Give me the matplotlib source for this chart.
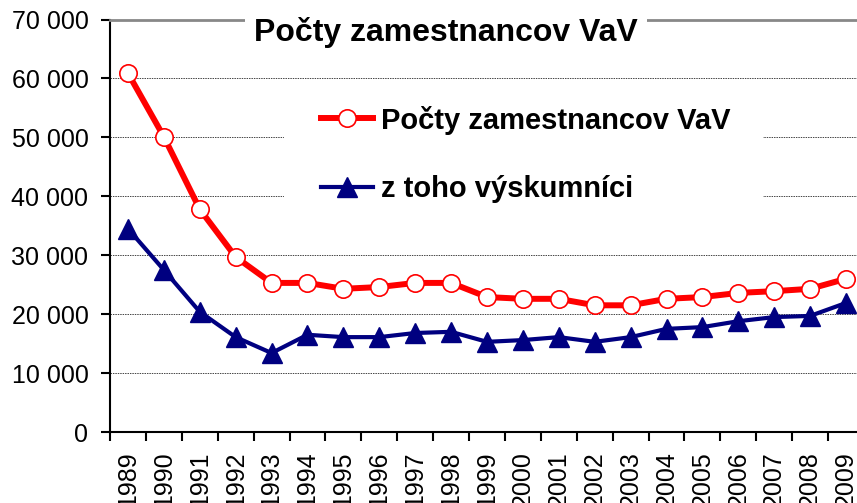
import numpy as np
import matplotlib
matplotlib.use("Agg")
import matplotlib.pyplot as plt
from matplotlib.patches import Rectangle
from matplotlib.ticker import FuncFormatter

# data
years = [str(y) for y in range(1989, 2010)]
zamestnanci = [60900, 50100, 37800, 29700, 25300, 25300, 24300, 24600, 25300, 25300,
               22900, 22600, 22600, 21500, 21500, 22600, 22900, 23600, 23900, 24300, 26000]
vyskumnici = [34500, 27500, 20400, 16100, 13400, 16500, 16100, 16100, 16800, 17000,
              15300, 15600, 16100, 15300, 16100, 17500, 17800, 18800, 19500, 19700, 21900]
yticks = [0, 10000, 20000, 30000, 40000, 50000, 60000, 70000]

title = "Počty zamestnancov VaV"
label1 = "Počty zamestnancov VaV"
label2 = "z toho výskumníci"

plt.rcParams['font.family'] = ['Liberation Sans', 'DejaVu Sans']

W, H = 857, 503
fig = plt.figure(figsize=(W / 100, H / 100), dpi=100)
# plot area runs past the right edge of the picture, as in the reference
ax = fig.add_axes([110 / W, (H - 432) / H, 754 / W, 412.5 / H])

x = np.arange(len(years))
ax.plot(x, zamestnanci, color='#ff0000', lw=4.3, marker='o', ms=12.5,
        mfc='white', mec='#ff0000', mew=1.2, label=label1, zorder=4)
ax.plot(x, vyskumnici, color='#000080', lw=3.0, marker='^', ms=15,
        mfc='#000080', mec='#000080', label=label2, zorder=4)

ax.set_xlim(-0.5, len(years) - 0.5)
ax.set_ylim(0, 70000)
ax.set_yticks(yticks)
ax.yaxis.set_major_formatter(FuncFormatter(lambda v, p: f"{int(v):,}".replace(",", " ")))
ax.tick_params(axis='y', direction='out', length=6.5, width=1.5, pad=9, labelsize=18)

ax.set_xticks(x)
ax.set_xticklabels(years, rotation=90, fontsize=18)
ax.set_xticks(np.arange(-0.5, len(years)), minor=True)
ax.tick_params(axis='x', which='major', length=0, pad=14)
ax.tick_params(axis='x', which='minor', direction='out', length=6.5, width=1.5)

ax.grid(axis='y', color='#444444', ls=(0, (1.5, 1)), lw=0.7, zorder=1)
ax.set_axisbelow(True)
for s in ['left', 'bottom']:
    ax.spines[s].set_linewidth(1.5)
    ax.spines[s].set_color('black')
ax.spines['top'].set_color('#888888')
ax.spines['top'].set_linewidth(2)
ax.spines['right'].set_visible(False)

# white box behind the legend that hides the gridlines
ax.add_patch(Rectangle((284 / W, (H - 246) / H), (763 - 284) / W, 162 / H,
                       transform=fig.transFigure, facecolor='white',
                       edgecolor='none', zorder=2, clip_on=False))
leg = ax.legend(loc='center left', bbox_to_anchor=(306 / W, (H - 154.5) / H),
                bbox_transform=fig.transFigure, frameon=False, borderpad=0,
                handlelength=1.8, handletextpad=0.28, labelspacing=1.4,
                prop={'size': 21, 'weight': 'bold'})
leg.set_zorder(6)

fig.text(446 / W, (H - 33) / H, title, ha='center', va='center', fontsize=23,
         fontweight='bold', zorder=5,
         bbox=dict(facecolor='white', edgecolor='none', pad=7))

fig.savefig('out.png', dpi=100)
